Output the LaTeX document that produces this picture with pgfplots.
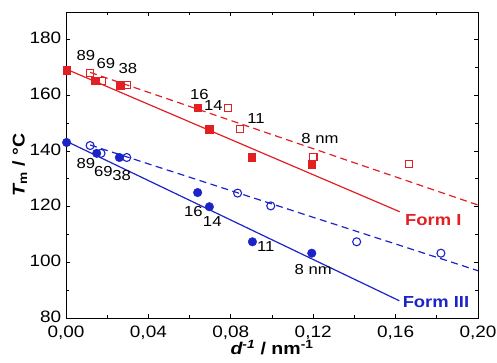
\documentclass[border=0pt]{standalone}
\usepackage{fontspec}
\setmainfont{Liberation Sans}[FakeStretch=1.15]
\usepackage{pgfplots}
\pgfplotsset{compat=1.18}
\usetikzlibrary{calc}
\definecolor{myred}{RGB}{226,32,36}
\definecolor{myblue}{RGB}{28,36,200}
\begin{document}
\begin{tikzpicture}
\begin{axis}[
  scale only axis, width=412pt, height=306pt,
  xmin=0, xmax=0.2, ymin=80, ymax=190,
  xtick={0,0.04,...,0.2}, ytick={80,100,...,180},
  minor x tick num=1, minor y tick num=1,
  tick align=inside, major tick length=4.5pt, minor tick length=3pt,
  axis line style={line width=0.9pt}, tick style={line width=0.9pt,black},
  xticklabel style={inner sep=1pt, yshift=-6.5pt, /pgf/number format/.cd, fixed, fixed zerofill, precision=2, use comma, assume math mode=true},
  yticklabel style={inner sep=1pt, xshift=-3.5pt, yshift=1.5pt, /pgf/number format/assume math mode=true},
  scaled x ticks=false,
  ticklabel style={font=\fontsize{16.5}{18}\selectfont},
  xlabel={\bfseries\itshape d\textsuperscript{-1}\upshape\ / nm\textsuperscript{-1}},
  ylabel={\bfseries\itshape T\upshape\textsubscript{m} / °C},
  label style={font=\fontsize{17}{19}\selectfont},
  xlabel style={yshift=3.5pt},
  ylabel style={yshift=-2pt},
  clip=false,
]
% lines
\addplot[myred, line width=1.2pt] coordinates {(0,169.5) (0.162,118.2)};
\addplot[myred, line width=1.2pt, dash pattern=on 7pt off 4.5pt] coordinates {(0.0117,168.3) (0.2,120.6)};
\addplot[myblue, line width=1.2pt] coordinates {(0,143.6) (0.1618,86.2)};
\addplot[myblue, line width=1.2pt, dash pattern=on 7pt off 4.5pt] coordinates {(0.0117,142.2) (0.2,97.0)};
% red filled squares
\addplot[only marks, mark=square*, mark size=3.8pt, myred] coordinates {
 (0.0003,169.0) (0.0141,165.3) (0.0262,163.7) (0.0639,155.6) (0.0696,147.9) (0.0901,137.8) (0.1193,135.3)};
% red open squares
\addplot[only marks, mark=square, mark size=3.6pt, myred, mark options={fill=white, line width=1.1pt}] coordinates {
 (0.0117,168.0) (0.0173,165.3) (0.0295,163.7) (0.0788,155.6) (0.0845,147.9) (0.1201,138.0) (0.1665,135.3)};
% blue filled circles
\addplot[only marks, mark=*, mark size=4.3pt, myblue] coordinates {
 (0.0003,143.1) (0.0149,139.2) (0.0259,137.7) (0.0639,125.1) (0.0696,120.0) (0.0905,107.4) (0.1193,103.3)};
% blue open circles
\addplot[only marks, mark=o, mark size=4pt, myblue, mark options={fill=white, line width=1.1pt}] coordinates {
 (0.0117,142.0) (0.0170,139.2) (0.0295,137.7) (0.0833,124.9) (0.0994,120.3) (0.1411,107.4) (0.1820,103.3)};
% labels
\begin{scope}[every node/.style={font=\fontsize{14.5}{16}\selectfont, inner sep=0pt}]
\node at (axis cs:0.0097,174.4) {89};
\node at (axis cs:0.0194,171.6) {69};
\node at (axis cs:0.0300,169.8) {38};
\node at (axis cs:0.0647,160.5) {16};
\node at (axis cs:0.0715,156.3) {14};
\node at (axis cs:0.0922,151.8) {11};
\node at (axis cs:0.1233,144.6) {8 nm};
\node at (axis cs:0.0097,135.6) {89};
\node at (axis cs:0.0181,132.6) {69};
\node at (axis cs:0.0270,131.4) {38};
\node at (axis cs:0.0618,118.2) {16};
\node at (axis cs:0.0710,114.6) {14};
\node at (axis cs:0.0970,105.6) {11};
\node at (axis cs:0.1200,97.5) {8 nm};
\end{scope}
\node[font=\fontsize{16}{18}\selectfont\bfseries, text=myred, inner sep=0pt] at (axis cs:0.1783,115.3) {Form I};
\node[font=\fontsize{16}{18}\selectfont\bfseries, text=myblue, inner sep=0pt] at (axis cs:0.1796,85.6) {Form III};
\end{axis}
\pgfresetboundingbox
\path ($(current axis.south west)+(-66pt,-44pt)$) rectangle ($(current axis.north east)+(19pt,12pt)$);
\end{tikzpicture}
\end{document}
